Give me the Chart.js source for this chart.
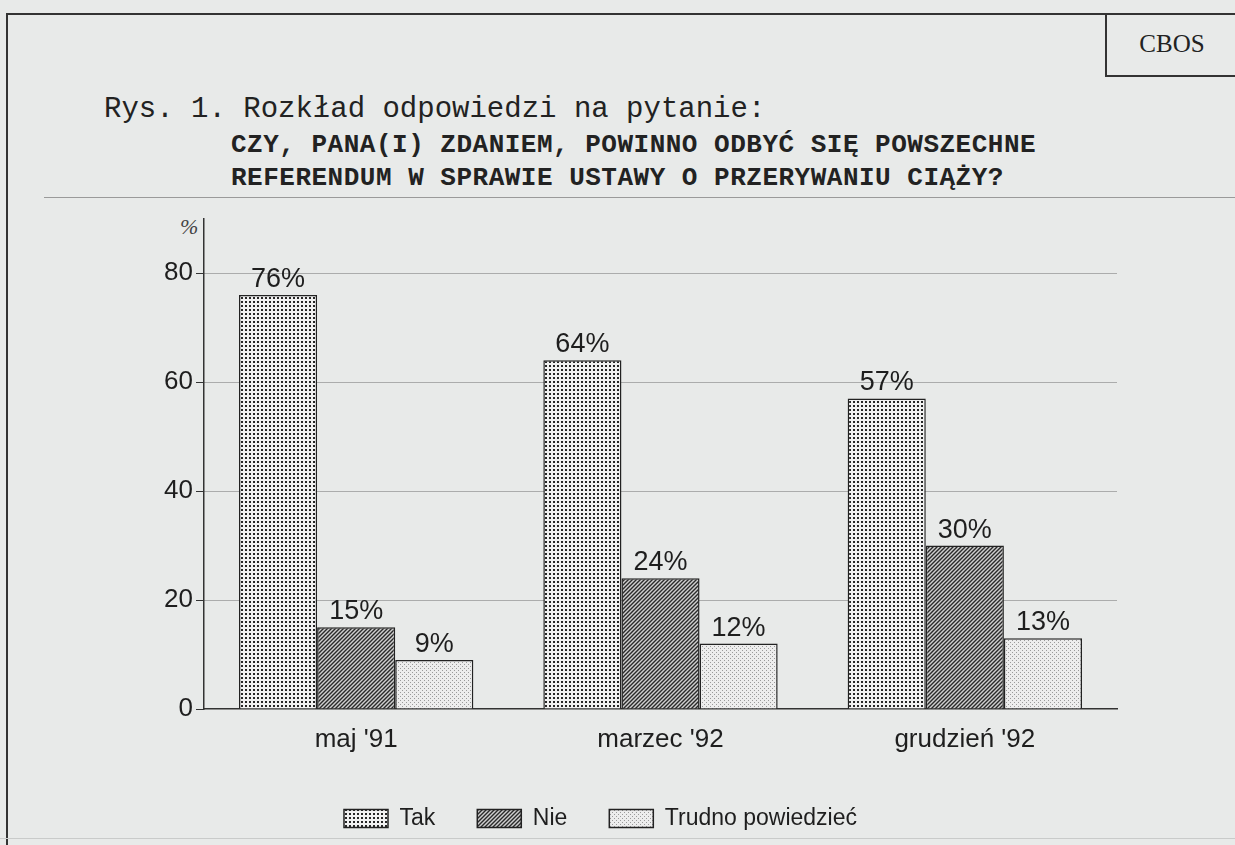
<!DOCTYPE html>
<html lang="pl">
<head>
<meta charset="utf-8">
<title>CBOS – referendum</title>
<script src="https://cdn.jsdelivr.net/npm/chart.js@4.4.1/dist/chart.umd.min.js"></script>
<style>
  html, body { margin: 0; padding: 0; }
  body { width: 1235px; height: 845px; overflow: hidden; background: #e8eae9; position: relative; color: #222; }
  .frameTop { position: absolute; left: 7px; top: 13px; width: 1228px; height: 0; border-top: 2px solid #333; }
  .frameLeft { position: absolute; left: 6px; top: 13px; width: 0; height: 832px; border-left: 2px solid #333; }
  .cbos { position: absolute; left: 1105px; top: 13px; width: 130px; height: 62px; border-left: 2px solid #333; border-bottom: 2px solid #333;
          font: 25px "Liberation Serif", "DejaVu Serif", serif; display: flex; align-items: center; justify-content: center; }
  .title { position: absolute; left: 104px; top: 93px; font: 29px "Liberation Mono", "DejaVu Sans Mono", monospace; white-space: pre; }
  .question { position: absolute; left: 231px; top: 129px; font: bold 26px/33px "Liberation Mono", "DejaVu Sans Mono", monospace; letter-spacing: 0.5px; white-space: pre; }
  .sep { position: absolute; left: 44px; top: 197px; width: 1191px; border-top: 1px solid #9a9a9a; }
  .bottomLine { position: absolute; left: 0; top: 838px; width: 1235px; border-top: 1px solid #c9cbca; }
  .pct { position: absolute; left: 180px; top: 214px; font: italic 22px "Liberation Serif", serif; color: #444; }
  #wrap { position: absolute; left: 0; top: 200px; width: 1235px; height: 640px; }
</style>
</head>
<body>
<div class="frameTop"></div>
<div class="frameLeft"></div>
<div class="cbos">CBOS</div>
<div class="title">Rys. 1. Rozkład odpowiedzi na pytanie:</div>
<div class="question">CZY, PANA(I) ZDANIEM, POWINNO ODBYĆ SIĘ POWSZECHNE
REFERENDUM W SPRAWIE USTAWY O PRZERYWANIU CIĄŻY?</div>
<div class="sep"></div>
<div class="bottomLine"></div>
<div class="pct">%</div>
<div id="wrap"><canvas id="chart" width="1235" height="640"></canvas></div>

<script>
// dane z rysunku
const categories = ['maj \'91', 'marzec \'92', 'grudzień \'92'];
const seriesNames = ['Tak', 'Nie', 'Trudno powiedzieć'];
const tak = [76, 64, 57];
const nie = [15, 24, 30];
const trudno = [9, 12, 13];
const yTicks = [0, 20, 40, 60, 80];

// wzory wypełnienia jak w druku
function makePattern(size, draw) {
  const c = document.createElement('canvas');
  c.width = size; c.height = size;
  const g = c.getContext('2d');
  draw(g, size);
  return g.createPattern(c, 'repeat');
}

const dots = makePattern(4, (g) => {
  g.fillStyle = '#f2f2f2'; g.fillRect(0, 0, 4, 4);
  g.fillStyle = '#262626'; g.fillRect(1, 1, 2, 2);
});
const hatch = makePattern(4, (g, s) => {
  g.fillStyle = '#cfcfcf'; g.fillRect(0, 0, s, s);
  g.strokeStyle = '#2a2a2a'; g.lineWidth = 1.4;
  g.beginPath();
  g.moveTo(0, s); g.lineTo(s, 0);
  g.moveTo(-1, 1); g.lineTo(1, -1);
  g.moveTo(s - 1, s + 1); g.lineTo(s + 1, s - 1);
  g.stroke();
});
const stipple = makePattern(4, (g) => {
  g.fillStyle = '#ededed'; g.fillRect(0, 0, 4, 4);
  g.fillStyle = '#9a9a9a';
  g.fillRect(0, 0, 1, 1);
  g.fillRect(2, 2, 1, 1);
});

// etykiety wartości nad słupkami
const valueLabels = {
  id: 'valueLabels',
  afterDatasetsDraw(chart) {
    const { ctx } = chart;
    ctx.save();
    ctx.font = '27px "Liberation Sans", Arial, sans-serif';
    ctx.fillStyle = '#1e1e1e';
    ctx.textAlign = 'center';
    ctx.textBaseline = 'alphabetic';
    chart.data.datasets.forEach((ds, i) => {
      chart.getDatasetMeta(i).data.forEach((bar, j) => {
        ctx.fillText(ds.data[j] + '%', bar.x, bar.y - 8);
      });
    });
    ctx.restore();
  },
};

const font = '"Liberation Sans", Arial, sans-serif';
const common = { borderColor: '#222', borderWidth: 1.5, categoryPercentage: 0.77, barPercentage: 1 };

new Chart(document.getElementById('chart'), {
  type: 'bar',
  data: {
    labels: categories,
    datasets: [
      { label: seriesNames[0], data: tak, backgroundColor: dots, ...common },
      { label: seriesNames[1], data: nie, backgroundColor: hatch, ...common },
      { label: seriesNames[2], data: trudno, backgroundColor: stipple, ...common },
    ],
  },
  options: {
    responsive: false,
    animation: false,
    events: [],
    // lewy margines mniejszy, oś Y szersza — legenda wypada bardziej w lewo, jak w oryginale
    layout: { padding: { left: 84, right: 118, top: 15, bottom: 0 } },
    plugins: {
      tooltip: { enabled: false },
      legend: {
        position: 'bottom',
        labels: { color: '#1e1e1e', font: { family: font, size: 23 }, boxWidth: 44, boxHeight: 18, padding: 42 },
      },
    },
    scales: {
      x: {
        grid: { display: false },
        border: { display: true, color: '#333', width: 1.5 },
        ticks: { color: '#1e1e1e', font: { family: font, size: 26 }, padding: 7 },
        afterFit: s => { s.height = 56; },
      },
      y: {
        min: 0,
        max: 90,
        afterBuildTicks: s => { s.ticks = yTicks.map(v => ({ value: v })); },
        grid: {
          color: ctx => ctx.tick && ctx.tick.value === 0 ? 'rgba(0,0,0,0)' : '#6f6f6f',
          lineWidth: 1,
          tickLength: 8,
          tickColor: '#333',
        },
        border: { display: true, color: '#333', width: 1.5, dash: [1, 1] },
        ticks: { color: '#1e1e1e', font: { family: font, size: 26 }, padding: 3 },
        afterFit: s => { s.width = 120; },
      },
    },
  },
  plugins: [valueLabels],
});
</script>
</body>
</html>
